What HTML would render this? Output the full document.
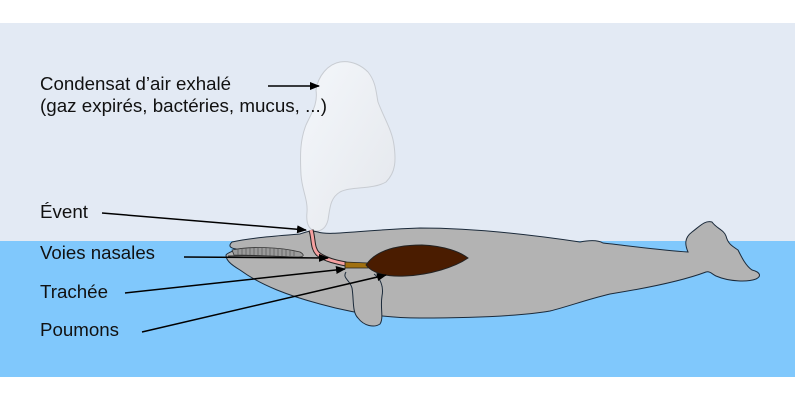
<!DOCTYPE html>
<html><head><meta charset="utf-8"><style>html,body{margin:0;padding:0;background:#fff}svg{display:block}text{font-family:"Liberation Sans",sans-serif;font-size:18px;fill:#111}</style></head><body>
<svg width="800" height="400" viewBox="0 0 800 400" xmlns="http://www.w3.org/2000/svg">
<defs>
<marker id="a" markerWidth="10" markerHeight="8" refX="9" refY="4" orient="auto" markerUnits="userSpaceOnUse" viewBox="0 0 10 8"><path d="M0,0 L10,4 L0,8 Z" fill="#000"/></marker>
<linearGradient id="c" x1="0" y1="0" x2="1" y2="1"><stop offset="0" stop-color="#f4f7fb"/><stop offset="1" stop-color="#e4e7ec"/></linearGradient>
</defs>
<rect x="0" y="23" width="795" height="218" fill="#e3eaf4"/>
<rect x="0" y="241" width="795" height="136" fill="#80c8fc"/>
<path d="M340,62 C352,60 362,66 368,72 C376,82 376,92 378,102 C384,118 392,130 394,145 C396,160 396,172 386,182 C372,190 352,186 340,192 C330,198 330,208 328,220 C326,228 322,231 316,231 C308,230 306,222 307,212 C308,200 302,190 301,175 C300,155 300,140 306,125 C312,112 318,104 316,90 C318,76 328,64 340,62 Z" fill="url(#c)" stroke="#c8ccd2" stroke-width="1"/>
<path d="M232,242 C250,238 275,236 300,234 C306,232 310,230 318,232 C330,236 360,230 420,228 C480,228 540,236 580,242 C590,240 598,240 603,243 C630,246 660,250 688,252 C685,245 684,238 692,232 C700,226 705,220 712,222 C716,228 724,230 726,236 C728,244 732,246 738,250 C742,258 746,266 752,270 C760,272 762,276 756,279 C748,282 730,282 716,276 C712,274 710,271 706,272 C690,278 660,286 610,294 C585,300 570,306 550,311 C520,316 470,318 420,318 C385,318 352,313 320,304 C290,296 262,286 240,270 C230,264 226,260 226,255 C228,252 235,251 236,249 C230,248 228,246 232,242 Z" fill="#b3b3b3" stroke="#1b2a3a" stroke-width="1"/>
<path d="M346,272 C342,278 350,280 352,288 C354,300 352,312 358,318 C364,326 374,328 380,324 C384,318 380,308 382,296 C384,286 380,278 374,274" fill="#b3b3b3" stroke="#1b2a3a" stroke-width="1"/>
<path d="M232,250 C250,246 280,247 300,252 C305,255 304,257 298,257 C270,256 250,255 234,255 Z" fill="#9a9a9a" stroke="#333" stroke-width="0.8"/>
<g stroke="#555" stroke-width="0.7">
<path d="M238,249v6M242,248v7M246,248v7M250,248v7M254,248v7M258,248v8M262,248v8M266,248v8M270,248v8M274,248v8M278,248v8M282,249v7M286,249v7M290,250v6M294,251v5"/></g>
<path d="M228,256 C260,255 290,257 310,258" fill="none" stroke="#333" stroke-width="1"/>
<path d="M311,230 C314,240 312,248 318,254 C326,260 336,262 346,264" fill="none" stroke="#222" stroke-width="5"/>
<path d="M311,230 C314,240 312,248 318,254 C326,260 336,262 346,264" fill="none" stroke="#f4a0a0" stroke-width="3"/>
<path d="M345,262 L368,263 L368,268 L345,268 Z" fill="#a07010" stroke="#222" stroke-width="0.8"/>
<path d="M366,265 C376,250 398,245 422,245 C445,246 460,252 468,258 C455,267 430,275 405,276 C386,277 372,273 366,265 Z" fill="#4a1c00" stroke="#222" stroke-width="1"/>
<g stroke="#000" stroke-width="1.5" fill="none" marker-end="url(#a)">
<line x1="268" y1="86" x2="319" y2="86"/>
<line x1="102" y1="213" x2="306" y2="230"/>
<line x1="184" y1="257" x2="328" y2="258"/>
<line x1="125" y1="293" x2="345" y2="269"/>
<line x1="142" y1="332" x2="386" y2="275"/>
</g>
<text x="40" y="90" textLength="191" lengthAdjust="spacingAndGlyphs">Condensat d’air exhalé</text>
<text x="40" y="112" textLength="287" lengthAdjust="spacingAndGlyphs">(gaz expirés, bactéries, mucus, ...)</text>
<text x="40" y="218" textLength="48" lengthAdjust="spacingAndGlyphs">Évent</text>
<text x="40" y="259" textLength="115" lengthAdjust="spacingAndGlyphs">Voies nasales</text>
<text x="40" y="298" textLength="68" lengthAdjust="spacingAndGlyphs">Trachée</text>
<text x="40" y="336" textLength="79" lengthAdjust="spacingAndGlyphs">Poumons</text>
</svg>
</body></html>
